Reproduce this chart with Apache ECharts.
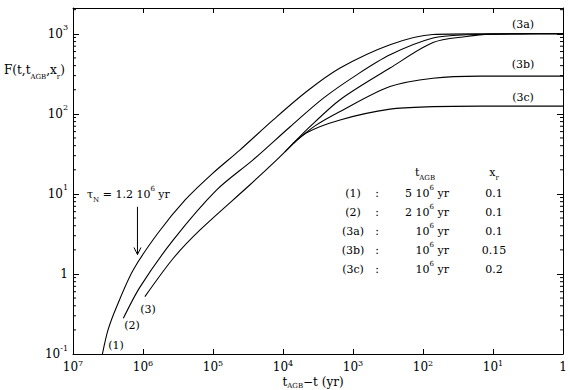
<!DOCTYPE html>
<html>
<head>
<meta charset="utf-8">
<script src="https://cdn.jsdelivr.net/npm/echarts@6/dist/echarts.min.js"></script>
<style>
html, body { margin: 0; padding: 0; background: #fff; }
#chart { width: 570px; height: 390px; }
</style>
</head>
<body>
<div id="chart"></div>
<script>
// curves, [t_AGB - t (yr), F]
const curve1 = [[3.8e6, 0.1], [3.16e6, 0.2], [2.38e6, 0.39], [1.38e6, 1.12], [6.1e5, 3.25], [2.5e5, 8.4], [1.03e5, 17.8], [4.1e4, 35.5], [1.38e4, 84], [4.6e3, 190], [1.53e3, 373], [296, 729], [72, 980], [15, 998], [1, 1000]];
const curve2 = [[1.91e6, 0.279], [1.1e6, 0.69], [3.69e5, 2.66], [8.86e4, 11.2], [2.68e4, 26.6], [7.9e3, 69], [2.65e3, 157], [885, 307], [296, 546], [72, 884], [24, 972], [4, 998], [1, 1000]];
const curve3a = [[9.4e5, 0.52], [3.69e5, 1.57], [1.53e5, 3.55], [2.96e4, 13], [1.23e4, 26.6], [7.9e3, 39], [4.6e3, 63], [1.53e3, 150], [296, 373], [72, 778], [24, 925], [11, 990], [3, 1000], [1, 1000]];
const curve3b = [[7.2e3, 42.6], [3.49e3, 70.8], [1.53e3, 107], [296, 219], [72, 279], [15, 296], [1, 296]];
const curve3c = [[9.4e3, 33.5], [4.6e3, 57.9], [1.53e3, 84], [296, 114.5], [72, 123], [15, 125], [1, 125]];

// tau_N arrow: x, from F, to F
const arrow = [[1.2e6, 6.9, 1.75]];

// legend table
const rowIds = ['(1)', '(2)', '(3a)', '(3b)', '(3c)'];
const rowTagbFactor = ['5', '2', '', '', ''];
const rowTagbExp = ['6', '6', '6', '6', '6'];
const rowXr = ['0.1', '0.1', '0.1', '0.15', '0.2'];

// minor ticks on the F axis (2..9 per decade)
const yMinor = [];
for (let d = -1; d <= 3; d++) {
  for (let m = 2; m <= 9; m++) {
    const v = m * Math.pow(10, d);
    if (v < 2100) yMinor.push([1000, v]);
  }
}

const FONT = 'DejaVu Serif';
const rich = {
  b: { fontFamily: FONT, fontSize: 12, color: '#000', lineHeight: 20 },
  s: { fontFamily: FONT, fontSize: 8, color: '#000', lineHeight: 10, verticalAlign: 'top' },
  u: { fontFamily: FONT, fontSize: 7, color: '#000', lineHeight: 10, verticalAlign: 'bottom' }
};
const richX = {
  b: { fontFamily: FONT, fontSize: 12, color: '#000', lineHeight: 16 },
  s: { fontFamily: FONT, fontSize: 8, color: '#000', lineHeight: 8, verticalAlign: 'top' }
};
const richName = {
  b: { fontFamily: FONT, fontSize: 12, color: '#000', lineHeight: 14 },
  u: { fontFamily: FONT, fontSize: 7, color: '#000', lineHeight: 8, verticalAlign: 'bottom' }
};
const richT = {
  b: { fontFamily: FONT, fontSize: 11, color: '#000', lineHeight: 18 },
  s: { fontFamily: FONT, fontSize: 7, color: '#000', lineHeight: 9, verticalAlign: 'top' },
  u: { fontFamily: FONT, fontSize: 7, color: '#000', lineHeight: 9, verticalAlign: 'bottom' }
};

function powLabel(v) {
  const e = Math.round(Math.log10(v));
  if (Math.abs(Math.log10(v) - e) > 1e-6) return '';
  if (e === 0) return '{b|1}';
  return '{b|10}{s|' + e + '}';
}

function txt(x, y, s, align) {
  return {
    type: 'text', x: x, y: y,
    style: { text: s, fontFamily: FONT, fontSize: 11, fill: '#000', align: align || 'center', verticalAlign: 'middle' }
  };
}

const baseAxis = {
  axisLine: { show: true, onZero: false, lineStyle: { color: '#000', width: 1 } },
  splitLine: { show: false },
  minorTick: { show: false }
};

const xBase = Object.assign({}, baseAxis, {
  type: 'log', logBase: 10, min: 1, max: 1e7, interval: 1, inverse: true,
  axisTick: { show: true, inside: true, length: 5, lineStyle: { color: '#000' } }
});
const yBase = Object.assign({}, baseAxis, {
  type: 'log', logBase: 10, min: 0.1, max: 2100, interval: 1,
  axisTick: { show: true, inside: true, length: 6, lineStyle: { color: '#000' } }
});

function line(data) {
  return {
    type: 'line', data: data, showSymbol: false, smooth: 0.3,
    lineStyle: { color: '#000', width: 1.1 }, silent: true, animation: false
  };
}

const chart = echarts.init(document.getElementById('chart'), null, { renderer: 'svg' });

const graphics = [
  { type: 'text', left: 4, top: 64, style: { text: '{b|F(t,t}{u|AGB}{b|,x}{u|r}{b|)}', rich: rich } },
  { type: 'text', x: 313, y: 375, style: { text: '{b|t}{u|AGB}{b|−t (yr)}', rich: richName, align: 'center' } },
  { type: 'text', x: 87, y: 185, style: { text: '{b|τ}{u|N}{b| = 1.2 10}{s|6}{b| yr}', rich: richT } },
  txt(116, 345, '(1)'), txt(132, 325, '(2)'), txt(148, 309, '(3)'),
  txt(523, 24, '(3a)'), txt(523, 64, '(3b)'), txt(523, 97, '(3c)'),
  { type: 'text', x: 425, y: 163, style: { text: '{b|t}{u|AGB}', rich: richT, align: 'center' } },
  { type: 'text', x: 494, y: 163, style: { text: '{b|x}{u|r}', rich: richT, align: 'center' } }
];
const rowY = [193, 212, 231, 250, 269];
rowIds.forEach(function (id, i) {
  graphics.push(txt(353, rowY[i], id));
  graphics.push(txt(377, rowY[i], ':'));
  const f = rowTagbFactor[i] ? rowTagbFactor[i] + ' ' : '';
  graphics.push({ type: 'text', x: 449, y: rowY[i] - 9, style: { text: '{b|' + f + '10}{s|' + rowTagbExp[i] + '}{b| yr}', rich: richT, align: 'right' } });
  graphics.push(txt(494, rowY[i], rowXr[i]));
});

chart.setOption({
  animation: false,
  backgroundColor: '#fff',
  grid: { left: 73, right: 7, top: 8, bottom: 36, containLabel: false, outerBoundsMode: 'none' },
  xAxis: [
    Object.assign({}, xBase, {
      position: 'bottom',
      axisLabel: { show: true, margin: 5, formatter: powLabel, rich: richX, showMinLabel: true, showMaxLabel: true, hideOverlap: false }
    }),
    Object.assign({}, xBase, { position: 'top', axisLabel: { show: false } })
  ],
  yAxis: [
    Object.assign({}, yBase, {
      position: 'left',
      axisLabel: { show: true, margin: 5, formatter: powLabel, rich: rich, showMinLabel: true, showMaxLabel: true, hideOverlap: false }
    }),
    Object.assign({}, yBase, { position: 'right', axisLabel: { show: false } })
  ],
  series: [
    line(curve1), line(curve2), line(curve3a), line(curve3b), line(curve3c),
    {
      type: 'custom', data: yMinor, silent: true, clip: false,
      renderItem: function (params, api) {
        const l = api.coord([1e7, api.value(1)]);
        const r = api.coord([1, api.value(1)]);
        return {
          type: 'group', children: [
            { type: 'line', shape: { x1: l[0], y1: l[1], x2: l[0] + 3, y2: l[1] }, style: { stroke: '#000', lineWidth: 1 } },
            { type: 'line', shape: { x1: r[0] - 3, y1: r[1], x2: r[0], y2: r[1] }, style: { stroke: '#000', lineWidth: 1 } }
          ]
        };
      }
    },
    {
      type: 'custom', data: arrow, silent: true, clip: false,
      encode: { x: 0, y: 1 },
      renderItem: function (params, api) {
        const top = api.coord([api.value(0), api.value(1)]);
        const tip = api.coord([api.value(0), api.value(2)]);
        return {
          type: 'group', children: [
            { type: 'line', shape: { x1: top[0], y1: top[1], x2: tip[0], y2: tip[1] }, style: { stroke: '#000', lineWidth: 1 } },
            { type: 'polyline', shape: { points: [[tip[0] - 3.5, tip[1] - 7], [tip[0], tip[1]], [tip[0] + 3.5, tip[1] - 7]] }, style: { stroke: '#000', fill: 'none', lineWidth: 1 } }
          ]
        };
      }
    }
  ],
  graphic: graphics
});
</script>
</body>
</html>
